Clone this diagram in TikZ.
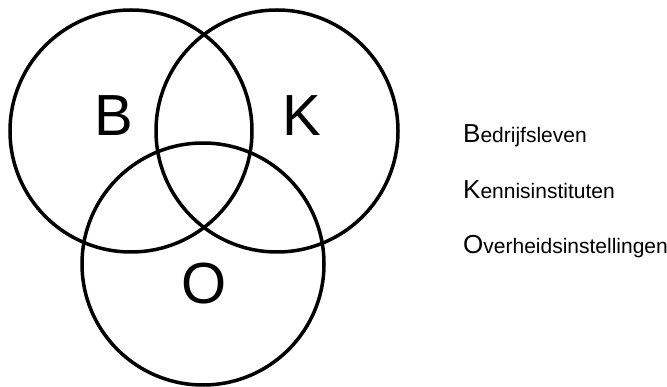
\documentclass[tikz,border=0pt]{standalone}
\usepackage{fontspec}
\setmainfont{Liberation Sans}
\usepackage{tikz}
\usetikzlibrary{positioning}

\tikzset{
  venn/.style={draw=black, circle, line width=3.5pt, minimum size=242pt,
               inner sep=0pt},
  letter/.style={font=\fontsize{58}{60}\selectfont, inner sep=0pt},
  legend/.style={anchor=base west, inner sep=0pt,
                 font=\fontsize{21}{24}\selectfont},
}
\newcommand{\initial}[1]{{\fontsize{26}{28}\selectfont #1}}

\begin{document}
\begin{tikzpicture}[x=1pt, y=-1pt]
  \useasboundingbox (0,0) rectangle (667,387);
  % circles
  \node[venn] (bcirc) at (131,131) {};
  \node[venn] (kcirc) at (277,131) {};
  \node[venn] (ocirc) at (203,264) {};
  % letters
  \node[letter] (bl) at (114,116) {B};
  \node[letter] (kl) at (302,116) {K};
  \node[letter] (ol) at (204,284) {O};
  % Legend
  \node[legend] (bedr) at (463,143) {\initial{B}edrijfsleven};
  \node[legend] (kenn) at ([yshift=-56pt]bedr.base west) {\initial{K}ennisinstituten};
  \node[legend] (over) at ([yshift=-55pt]kenn.base west) {\initial{O}verheidsinstellingen};
\end{tikzpicture}
\end{document}
